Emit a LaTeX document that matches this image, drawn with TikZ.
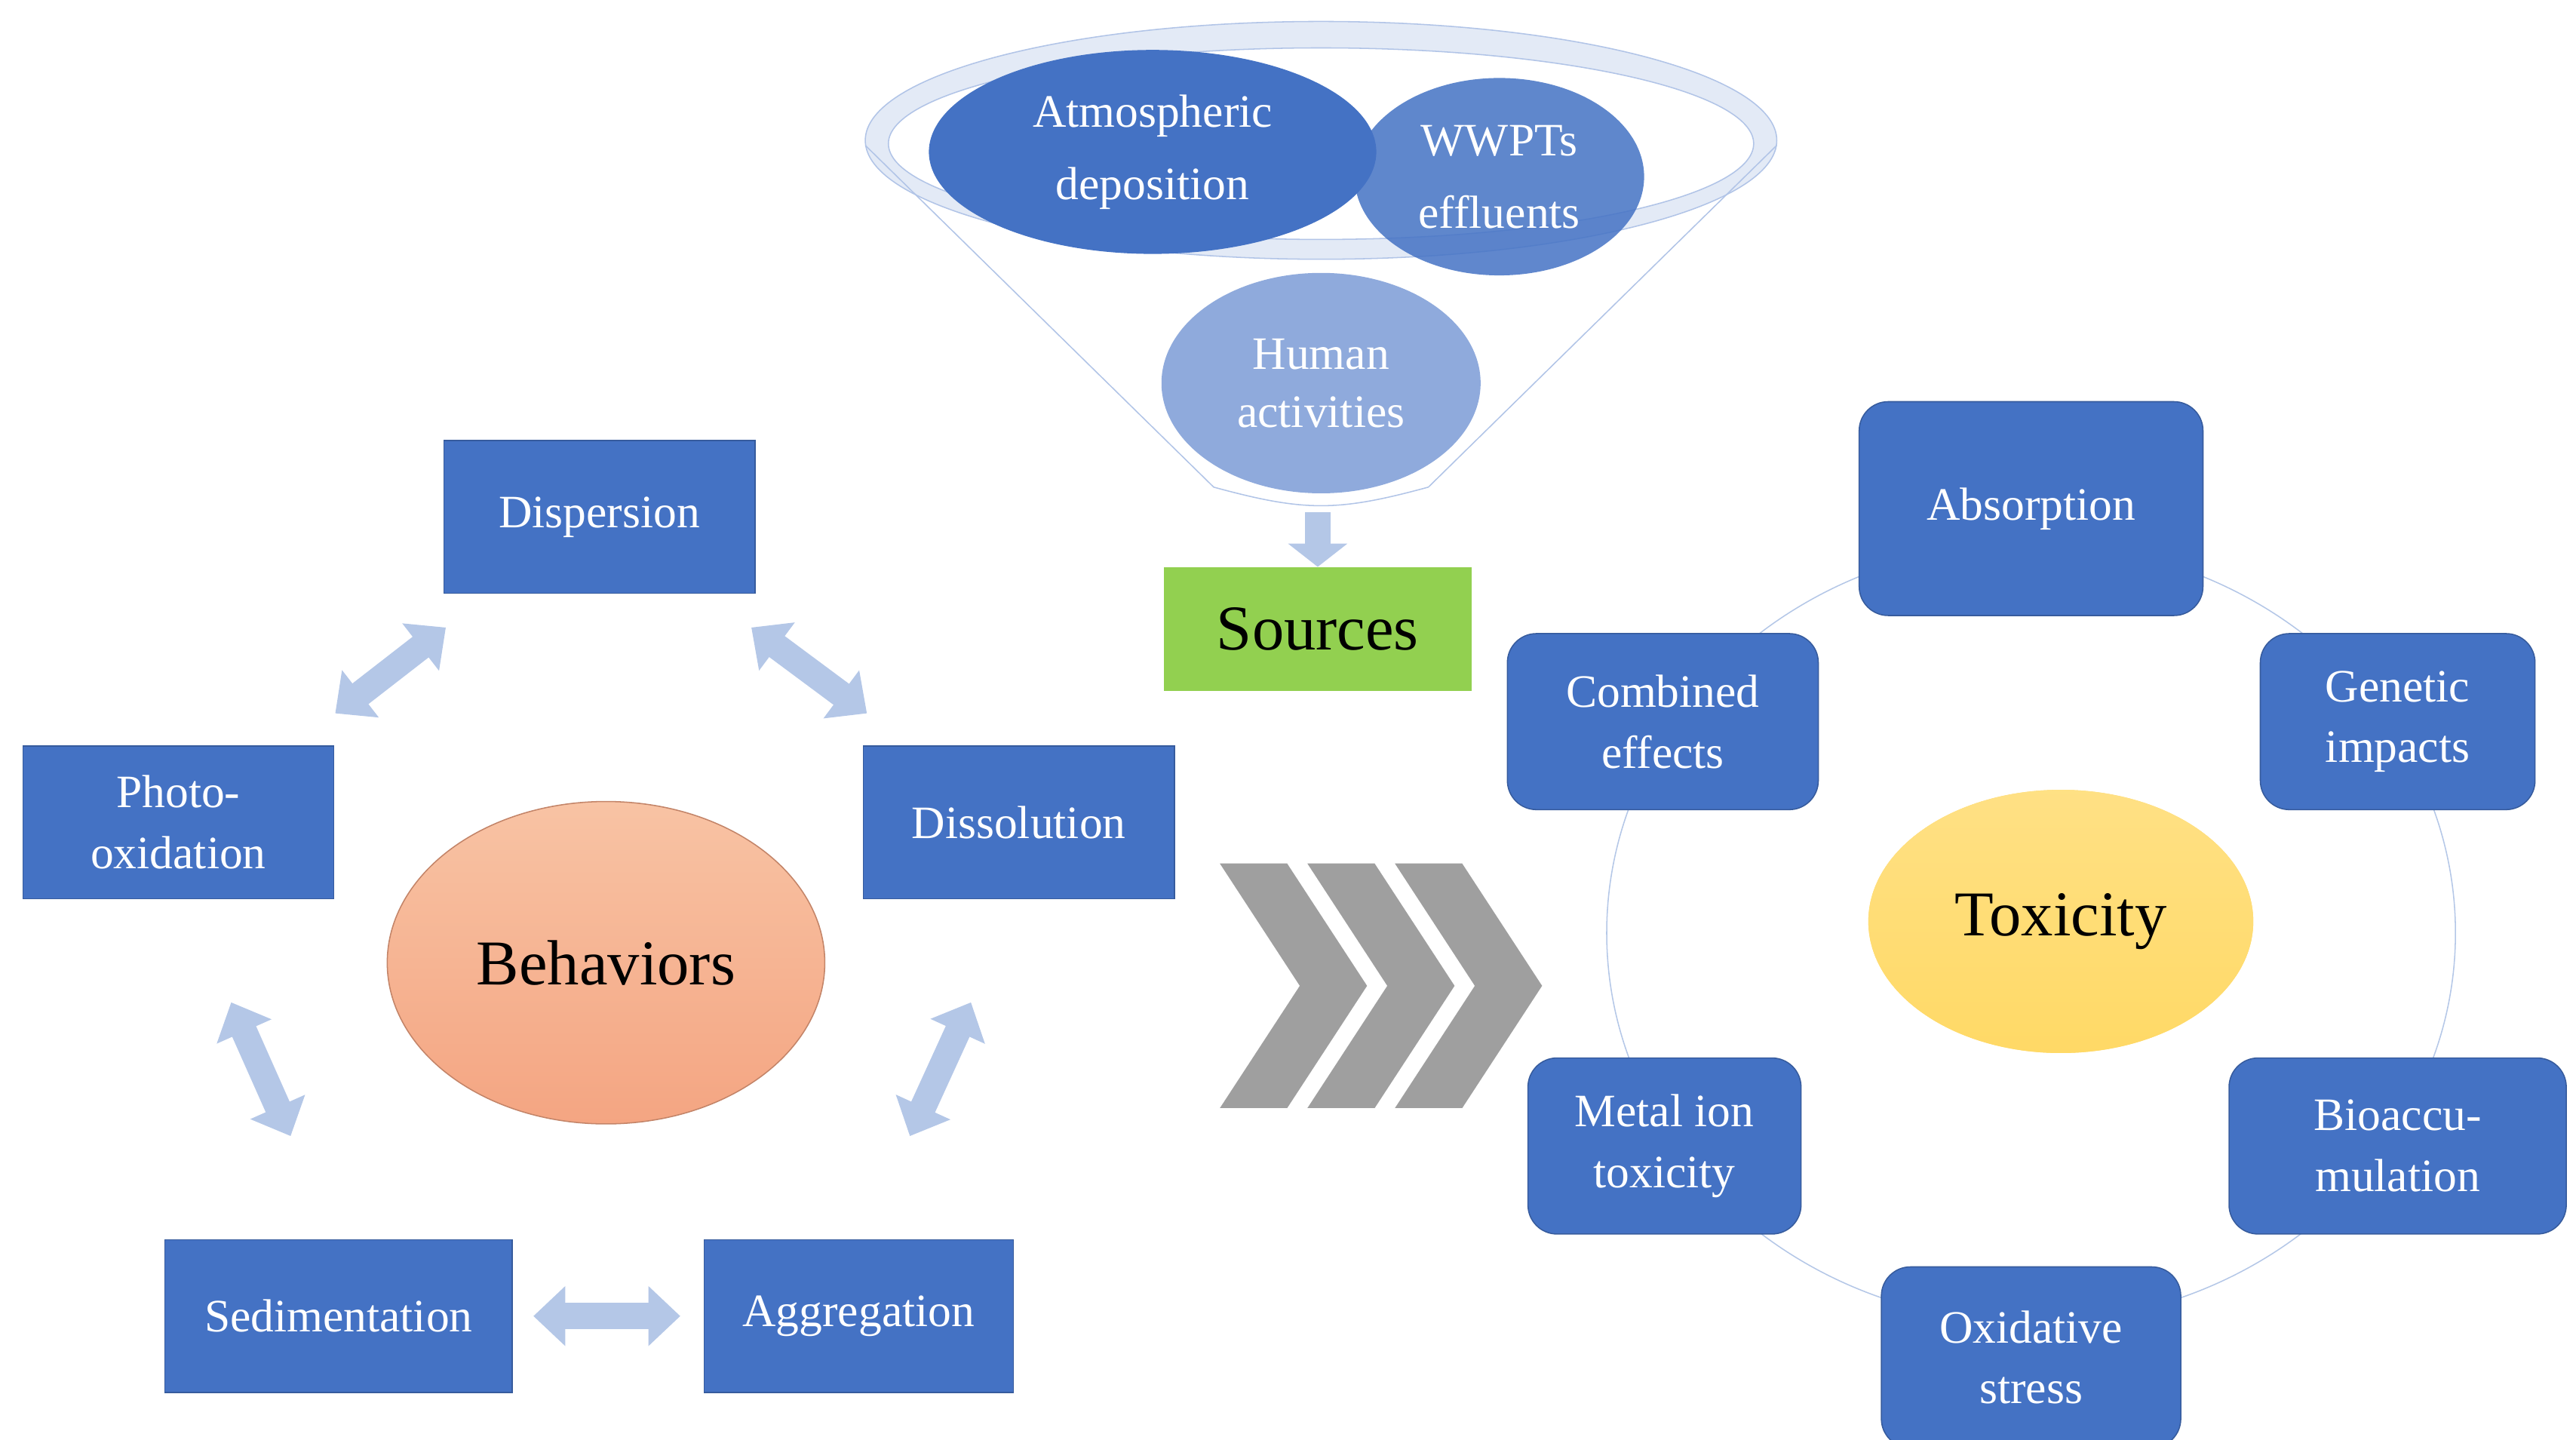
\documentclass[tikz,border=0pt]{standalone}
\usepackage{fontspec}
\setmainfont{Liberation Serif}
\usetikzlibrary{shapes.geometric,arrows.meta}
\definecolor{boxblue}{HTML}{4472C4}
\definecolor{lightblue}{HTML}{8FAADC}
\definecolor{arrowblue}{HTML}{B4C7E7}
\definecolor{srcgreen}{HTML}{92D050}
\definecolor{orangeA}{HTML}{F8C3A4}
\definecolor{orangeB}{HTML}{F4A582}
\definecolor{yellowA}{HTML}{FFD966}
\tikzset{
  box/.style={draw=boxblue!80!black, fill=boxblue, text=white, align=center, font=\fontsize{16}{21}\selectfont, inner sep=0pt},
  rbox/.style={box, rounded corners=10pt},
  blob/.style={ellipse, fill=boxblue, text=white, align=center, font=\fontsize{16}{25}\selectfont, inner sep=0pt},
  dbl/.style={arrowblue, line width=9pt, {Triangle[width=20pt,length=11pt]}-{Triangle[width=20pt,length=11pt]}, shorten <=0pt},
  chev/.style={fill=gray!75, draw=white, line width=1pt}
}
\begin{document}
\begin{tikzpicture}[x=0.02cm,y=-0.02cm]
\useasboundingbox (0,0) rectangle (1560,872);

		% funnel
		\draw[lightblue!70, fill=lightblue!25] (800,85) ellipse (276 and 72);
		\draw[lightblue!70, fill=white] (800,87) ellipse (262 and 58);
		\draw[lightblue!70] (524,88) -- (735,295) .. controls (790,310) and (810,310) .. (865,295) -- (1076,88);
		\node[blob, minimum width=272pt*0.567, minimum height=124pt*0.567] (atm) at (698,92) {Atmospheric\\deposition};
		\node[blob, fill=boxblue, opacity=.85, text opacity=1, minimum width=176pt*0.567, minimum height=120pt*0.567] (wwpt) at (908,107) {WWPTs\\effluents};
		\node[blob, fill=lightblue, minimum width=194pt*0.567, minimum height=134pt*0.567, font=\fontsize{16}{20}\selectfont] (human) at (800,232) {Human\\activities};
		\node[fill=srcgreen, minimum width=187pt*0.567, minimum height=75pt*0.567, font=\fontsize{22}{26}\selectfont, inner sep=0pt] (src) at (798,381) {Sources};
		\coordinate (dtop) at (798,310);
		\draw[arrowblue, line width=9pt, -{Triangle[width=20pt,length=8pt]}] (dtop) -- (src.north);

		% behaviors
		\node[ellipse, top color=orangeA, bottom color=orangeB, draw=orangeB!80!black, minimum width=266pt*0.567, minimum height=196pt*0.567, font=\fontsize{22}{26}\selectfont] (beh) at (367,583) {Behaviors};
		\node[box, minimum width=189pt*0.567, minimum height=93pt*0.567] (disp) at (363,313) {Dispersion};
		\node[box, minimum width=189pt*0.567, minimum height=93pt*0.567] (photo) at (108,498) {Photo-\\oxidation};
		\node[box, minimum width=189pt*0.567, minimum height=93pt*0.567] (diss) at (617,498) {Dissolution};
		\node[box, minimum width=211pt*0.567, minimum height=93pt*0.567] (sed) at (205,797) {Sedimentation};
		\node[box, minimum width=188pt*0.567, minimum height=93pt*0.567] (agg) at (520,797) {Aggregation};

		\coordinate (a1) at (203,432); \coordinate (a2) at (270,380);
		\coordinate (b1) at (455,380); \coordinate (b2) at (525,432);
		\coordinate (c1) at (140,607); \coordinate (c2) at (176,688);
		\coordinate (d1) at (588,607); \coordinate (d2) at (551,688);
		\coordinate (e1) at (323,797); \coordinate (e2) at (412,797);
		\draw[dbl] (a1) -- (a2);
		\draw[dbl] (b1) -- (b2);
		\draw[dbl] (c1) -- (c2);
		\draw[dbl] (d1) -- (d2);
		\draw[dbl] (e1) -- (e2);

		% chevrons
		\foreach \s in {0,53,106}{
			\draw[chev] (737+\s,522) -- (780+\s,522) -- (829+\s,597) -- (780+\s,672) -- (737+\s,672) -- (786+\s,597) -- cycle;
		}

		% toxicity
		\draw[arrowblue] (1230,565) ellipse (257 and 236);
		\node[ellipse, fill=yellowA, top color=yellowA!80, bottom color=yellowA, minimum width=234pt*0.567, minimum height=160pt*0.567, font=\fontsize{22}{26}\selectfont] (tox) at (1248,558) {Toxicity};
		\node[rbox, minimum width=209pt*0.567, minimum height=130pt*0.567] (abs) at (1230,308) {Absorption};
		\node[rbox, minimum width=189pt*0.567, minimum height=107pt*0.567] (comb) at (1007,437) {Combined\\effects};
		\node[rbox, minimum width=167pt*0.567, minimum height=107pt*0.567] (gen) at (1452,437) {Genetic\\impacts};
		\node[rbox, minimum width=166pt*0.567, minimum height=107pt*0.567] (metal) at (1008,694) {Metal ion\\toxicity};
		\node[rbox, minimum width=205pt*0.567, minimum height=107pt*0.567] (bio) at (1452,694) {Bioaccu-\\mulation};
		\node[rbox, minimum width=182pt*0.567, minimum height=110pt*0.567] (oxi) at (1230,822) {Oxidative\\stress};

\end{tikzpicture}
\end{document}
